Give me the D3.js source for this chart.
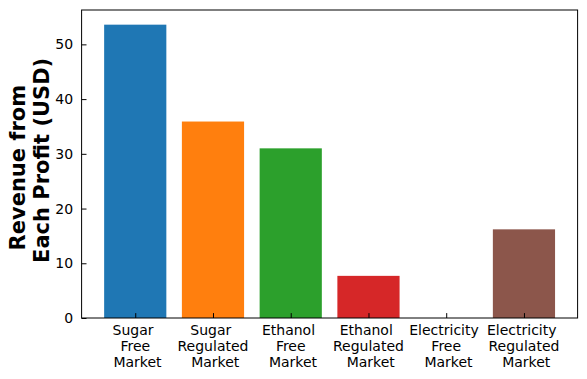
<!DOCTYPE html>
<html>
<head>
<meta charset="utf-8">
<script src="https://cdn.jsdelivr.net/npm/d3@7"></script>
<style>
  body { margin: 0; background: #fff; }
  text { font-family: "DejaVu Sans", sans-serif; fill: #000; white-space: pre; }
</style>
</head>
<body>
<div id="chart"></div>
<script>
// Data
var categories = ["Sugar \n Free \n Market", "Sugar \n Regulated \n Market", "Ethanol \n Free \n Market",
                  "Ethanol \n Regulated \n Market", "Electricity \n Free \n Market", "Electricity \n Regulated \n Market"];
var revenues = [53.6, 35.9, 31.0, 7.7, 0, 16.2];
var barColors = ["#1f77b4", "#ff7f0e", "#2ca02c", "#d62728", "#9467bd", "#8c564b"];
var yTicks = [0, 10, 20, 30, 40, 50];

var svgWidth = 587;
var svgHeight = 379;

var margin = { top: 10, right: 9.4, bottom: 61, left: 81.6 };
var width = svgWidth - margin.left - margin.right;
var height = svgHeight - margin.top - margin.bottom;

var svg = d3.select("#chart")
  .append("svg")
  .attr("width", svgWidth)
  .attr("height", svgHeight);

var chartGroup = svg.append("g")
  .attr("transform", `translate(${margin.left}, ${margin.top})`);

// matplotlib-like scales: bar centres at 0..5, 5% margins
var xScale = d3.scaleLinear()
  .domain([-0.69, categories.length - 1 + 0.69])
  .range([0, width]);

var yScale = d3.scaleLinear()
  .domain([0, d3.max(revenues) * 1.05])
  .range([height, 0]);

var barW = xScale(0.8) - xScale(0);

// Bars
chartGroup.selectAll("rect.bar")
  .data(revenues)
  .enter()
  .append("rect")
  .attr("class", "bar")
  .attr("x", (d, i) => xScale(i) - barW / 2)
  .attr("y", d => yScale(d))
  .attr("width", barW)
  .attr("height", d => height - yScale(d))
  .attr("fill", (d, i) => barColors[i]);

// Y axis (ticks inward)
var leftAxis = d3.axisLeft(yScale)
  .tickValues(yTicks)
  .tickSizeInner(-4.9)
  .tickSizeOuter(0)
  .tickPadding(8.5);

var yAxisG = chartGroup.append("g").call(leftAxis);
yAxisG.select(".domain").remove();
yAxisG.selectAll("line").attr("stroke", "#000").attr("stroke-width", 1);
yAxisG.selectAll("text").style("font-size", "14px").attr("fill", "#000");

// X axis (ticks inward, multi-line labels)
var bottomAxis = d3.axisBottom(xScale)
  .tickValues(d3.range(categories.length))
  .tickSizeInner(-4.9)
  .tickSizeOuter(0)
  .tickFormat("");

var xAxisG = chartGroup.append("g")
  .attr("transform", `translate(0, ${height})`)
  .call(bottomAxis);
xAxisG.select(".domain").remove();
xAxisG.selectAll("line").attr("stroke", "#000").attr("stroke-width", 1);

var xLabels = chartGroup.selectAll("text.xlab")
  .data(categories)
  .enter()
  .append("text")
  .attr("class", "xlab")
  .attr("text-anchor", "middle")
  .attr("transform", (d, i) => `translate(${xScale(i)}, ${height + 16.5})`)
  .style("font-size", "14px");

xLabels.selectAll("tspan")
  .data(d => d.split("\n"))
  .enter()
  .append("tspan")
  .attr("x", 0)
  .attr("y", (d, i) => i * 16)
  .text(d => d);

// Frame
chartGroup.append("rect")
  .attr("width", width)
  .attr("height", height)
  .attr("fill", "none")
  .attr("stroke", "#000")
  .attr("stroke-width", 1);

// Y label, two bold lines
var yLabel = svg.append("text")
  .attr("transform", `translate(25, ${margin.top + height / 2}) rotate(-90)`)
  .attr("text-anchor", "middle")
  .style("font-size", "21px")
  .style("font-weight", "bold");

yLabel.append("tspan").attr("x", 0).attr("y", 0).text("Revenue from ");
yLabel.append("tspan").attr("x", 0).attr("y", 24).text(" Each Profit (USD)");
</script>
</body>
</html>
